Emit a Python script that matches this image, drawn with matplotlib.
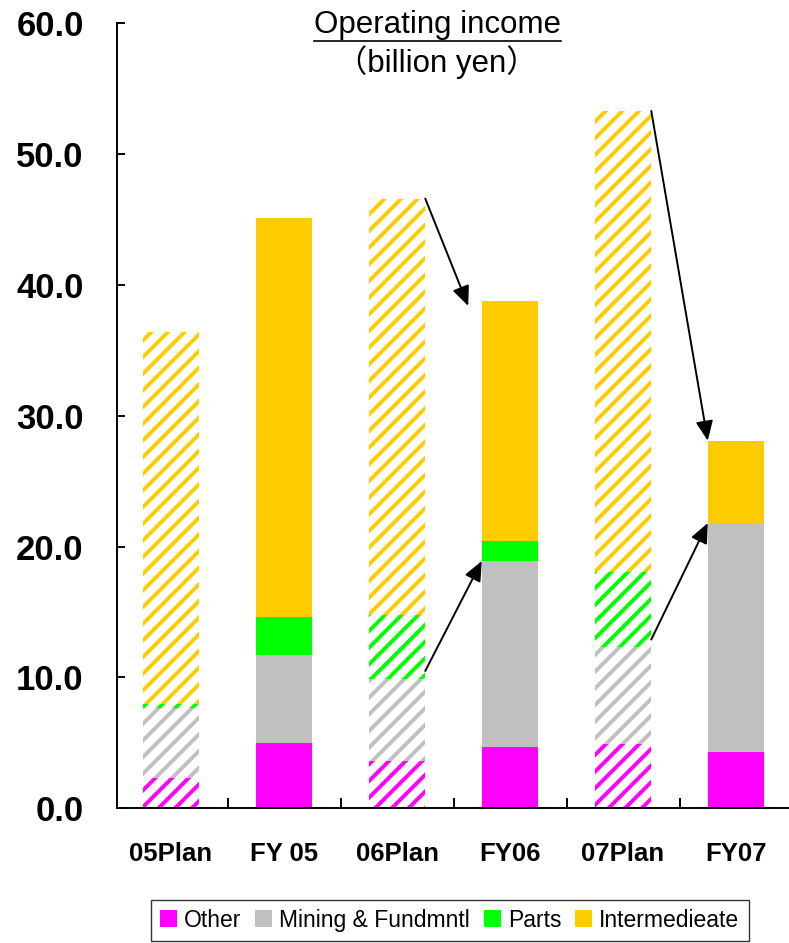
import matplotlib
matplotlib.use('Agg')
import matplotlib.pyplot as plt
from matplotlib import font_manager as fm
from matplotlib.patches import Patch
from matplotlib.lines import Line2D
import numpy as np

categories = ['05Plan', 'FY 05', '06Plan', 'FY06', '07Plan', 'FY07']
is_plan = [True, False, True, False, True, False]

other = [2.3, 5.0, 3.6, 4.7, 4.9, 4.3]
mining = [5.4, 6.7, 6.3, 14.2, 7.4, 17.5]
parts = [0.3, 2.9, 4.9, 1.5, 5.8, 0.0]
intermediate = [28.4, 30.5, 31.8, 18.4, 35.2, 6.3]

series_names = ['Other', 'Mining & Fundmntl', 'Parts', 'Intermedieate']
series_colors = ['#FF00FF', '#C0C0C0', '#00FF00', '#FFCC00']

# plan bar -> actual bar, which stack level the arrow joins
arrow_links = [(2, 3, 3), (2, 3, 1), (4, 5, 3), (4, 5, 1)]

names = {f.name for f in fm.fontManager.ttflist}
narrow = 'Liberation Sans Narrow' if 'Liberation Sans Narrow' in names else 'Liberation Sans'
xl_size = 21 if narrow == 'Liberation Sans Narrow' else 18.5

plt.rcParams['font.family'] = ['Liberation Sans', 'DejaVu Sans']
plt.rcParams['hatch.linewidth'] = 2.8

fig = plt.figure(figsize=(7.89, 9.43), dpi=100)
ax = fig.add_axes([0.1483, 0.1428, 0.8517, 0.8325])

x = np.arange(len(categories))
w = 0.5
stack = [other, mining, parts, intermediate]
bottoms = np.zeros(len(categories))
tops = []
for vals, col in zip(stack, series_colors):
    vals = np.array(vals)
    for i in range(len(categories)):
        if is_plan[i]:
            ax.bar(x[i], vals[i], w, bottom=bottoms[i], facecolor='white',
                   edgecolor=col, hatch='//', linewidth=0)
        else:
            ax.bar(x[i], vals[i], w, bottom=bottoms[i], color=col, linewidth=0)
    bottoms = bottoms + vals
    tops.append(bottoms.copy())

for src, dst, lvl in arrow_links:
    y0 = tops[lvl][src]
    y1 = tops[lvl][dst]
    x1 = dst - w / 2
    if lvl == 3 and dst == 3:
        x1 -= 0.12
        y1 -= 0.4
    if lvl == 1:
        y0 += 0.6
    ax.annotate('', xy=(x1, y1), xytext=(src + w / 2, y0),
                arrowprops=dict(arrowstyle='-|>,head_length=0.8,head_width=0.35',
                                color='black', lw=1.4, shrinkA=0, shrinkB=0,
                                mutation_scale=15))

ax.set_xlim(-0.478, 5.469)
ax.set_ylim(0, 60)
ax.spines['top'].set_visible(False)
ax.spines['right'].set_visible(False)
for s in ['left', 'bottom']:
    ax.spines[s].set_linewidth(1.4)

ax.set_yticks(np.arange(0, 61, 10))
ax.set_yticklabels(['%.1f' % v for v in np.arange(0, 61, 10)],
                   fontsize=25, fontweight='bold')
ax.tick_params(axis='y', direction='in', length=6, width=1.4, pad=24)

ax.set_xticks(x)
ax.set_xticklabels(categories, fontsize=xl_size, fontweight='bold', family=narrow)
ax.tick_params(axis='x', which='major', length=0, pad=24)
ax.set_xticks(x[:-1] + 0.5, minor=True)
ax.tick_params(axis='x', which='minor', direction='in', length=7, width=1.4)

t1 = fig.text(0.554, 0.973, 'Operating income', ha='center', va='center', fontsize=22.5)
fig.text(0.554, 0.934, '（billion yen）', ha='center', va='center', fontsize=22.5,
         family=['Liberation Sans', 'Noto Sans CJK JP'])

handles = [Patch(facecolor=c, edgecolor='none') for c in series_colors]
leg = fig.legend(handles, series_names, loc='center', bbox_to_anchor=(0.570, 0.024),
                 ncol=4, fontsize=16.5, frameon=True, fancybox=False,
                 handlelength=0.75, handleheight=0.75, handletextpad=0.3,
                 columnspacing=0.6, borderpad=0.4, borderaxespad=0)
leg.get_frame().set_edgecolor('black')
leg.get_frame().set_linewidth(1.0)
for txt in leg.get_texts():
    txt.set_family(narrow)

fig.canvas.draw()
bb = t1.get_window_extent()
fig.add_artist(Line2D([bb.x0 / fig.bbox.width, bb.x1 / fig.bbox.width],
                      [(bb.y0 - 1) / fig.bbox.height] * 2,
                      transform=fig.transFigure, color='black', lw=1.2))

fig.savefig('out.png', dpi=100)
